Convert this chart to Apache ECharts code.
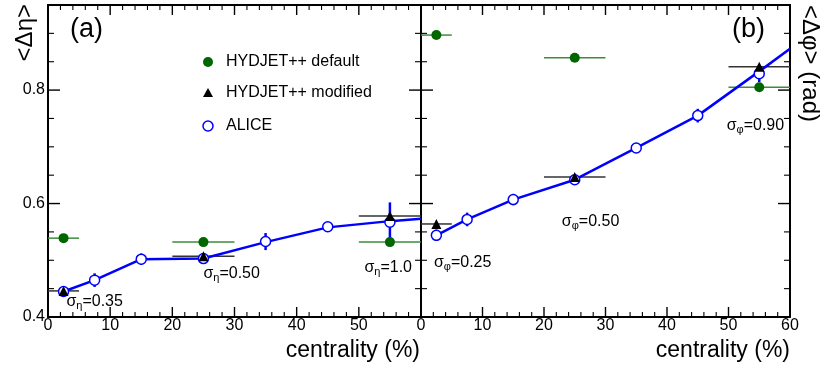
<!DOCTYPE html>
<html>
<head>
<meta charset="utf-8">
<script src="https://cdn.jsdelivr.net/npm/echarts@6/dist/echarts.min.js"></script>
<style>
  html, body { margin: 0; padding: 0; background: #fff; }
  #chart { width: 822px; height: 372px; }
</style>
</head>
<body>
<div id="chart"></div>
<script>
// ALICE points (bin centres)
const centrality = [2.5, 7.5, 15, 25, 35, 45, 55];
const aliceEta = [0.445, 0.465, 0.502, 0.503, 0.533, 0.559, 0.567];
const aliceEtaErr = [0.008, 0.012, 0.010, 0.006, 0.015, 0.005, 0.035];
const alicePhi = [0.544, 0.572, 0.607, 0.642, 0.698, 0.755, 0.829];
const alicePhiErr = [0.010, 0.012, 0.010, 0.005, 0.005, 0.012, 0.015];

// blue curve through the ALICE points
const curveX = [2.5, 7.5, 15, 25, 35, 45, 55, 60];
const curveEta = [0.445, 0.465, 0.502, 0.503, 0.532, 0.558, 0.569, 0.573];
const curvePhi = [0.544, 0.572, 0.607, 0.642, 0.698, 0.755, 0.833, 0.873];

// HYDJET++ (three centrality bins)
const hydX = [2.5, 25, 55];
const hydLo = [0, 20, 50];
const hydHi = [5, 30, 60];
const defEta = [0.539, 0.532, 0.532];
const defPhi = [0.897, 0.857, 0.805];
const modEta = [0.446, 0.507, 0.578];
const modPhi = [0.564, 0.647, 0.841];

// tick positions
const xTicks = [0, 10, 20, 30, 40, 50, 60];
const xMinorTicks = [2, 4, 6, 8, 12, 14, 16, 18, 22, 24, 26, 28, 32, 34, 36, 38, 42, 44, 46, 48, 52, 54, 56, 58];
const yTicks = [0.4, 0.6, 0.8];
const yMinorTicks = [0.45, 0.5, 0.55, 0.65, 0.7, 0.75, 0.85, 0.9];

const FONT = 'Liberation Sans, Arial, Helvetica, sans-serif';
const BLUE = '#0000ff';
const GREEN = '#006600';

const chart = echarts.init(document.getElementById('chart'));

// frame axes: line only
function xFrameAxis(g, pos) {
  return {
    gridIndex: g, type: 'value', min: 0, max: 60, interval: 10, position: pos,
    splitLine: { show: false },
    axisLine: { show: true, onZero: false, lineStyle: { color: '#000', width: 2 } },
    axisTick: { show: false },
    axisLabel: { show: false },
  };
}
function yFrameAxis(g, pos) {
  return {
    gridIndex: g, type: 'value', min: 0.4, max: 0.95, interval: 0.2, position: pos,
    splitLine: { show: false },
    axisLine: { show: true, onZero: false, lineStyle: { color: '#000', width: 2 } },
    axisTick: { show: false },
    axisLabel: { show: false },
  };
}
// label-only axes
function xLabelAxis(g, hideLast) {
  return {
    gridIndex: g, type: 'value', min: 0, max: 60, interval: 10, position: 'bottom',
    splitLine: { show: false },
    axisLine: { show: false, onZero: false },
    axisTick: { show: false },
    axisLabel: {
      show: true, margin: 1, fontSize: 16, fontFamily: FONT, color: '#000',
      formatter: (v) => (hideLast && v === 60 ? '' : String(v)),
    },
  };
}
function yLabelAxis(g) {
  return {
    gridIndex: g, type: 'value', min: 0.4, max: 0.95, interval: 0.2, position: 'left',
    splitLine: { show: false },
    axisLine: { show: false, onZero: false },
    axisTick: { show: false },
    axisLabel: {
      show: true, margin: 3, fontSize: 16, fontFamily: FONT, color: '#000',
      formatter: (v) => (yTicks.some((t) => Math.abs(t - v) < 1e-6) ? v.toFixed(1) : ''),
    },
  };
}

// inward tick marks as thin rect symbols sitting on the frame
function tickSet(xi, yi, data, size, offset) {
  return {
    type: 'scatter', xAxisIndex: xi, yAxisIndex: yi, silent: true, clip: false, z: 1,
    symbol: 'rect', symbolSize: size, symbolOffset: offset,
    itemStyle: { color: '#000', opacity: 1 },
    data,
  };
}
function ticks(xi, yi) {
  return [
    tickSet(xi, yi, xTicks.map((v) => [v, 0.4]), [1.4, 10], [0, -5]),
    tickSet(xi, yi, xMinorTicks.map((v) => [v, 0.4]), [1.1, 5], [0, -2.5]),
    tickSet(xi, yi, xTicks.map((v) => [v, 0.95]), [1.4, 10], [0, 5]),
    tickSet(xi, yi, xMinorTicks.map((v) => [v, 0.95]), [1.1, 5], [0, 2.5]),
    tickSet(xi, yi, yTicks.map((v) => [0, v]), [12, 1.4], [6, 0]),
    tickSet(xi, yi, yMinorTicks.map((v) => [0, v]), [6, 1.1], [3, 0]),
    tickSet(xi, yi, yTicks.map((v) => [60, v]), [12, 1.4], [-6, 0]),
    tickSet(xi, yi, yMinorTicks.map((v) => [60, v]), [6, 1.1], [-3, 0]),
  ];
}

function binBars(xi, yi, ys, color, width) {
  return {
    type: 'custom', xAxisIndex: xi, yAxisIndex: yi, silent: true, z: 2,
    data: ys.map((y, i) => [hydLo[i], hydHi[i], y]),
    renderItem: (params, api) => {
      const a = api.coord([api.value(0), api.value(2)]);
      const b = api.coord([api.value(1), api.value(2)]);
      return {
        type: 'line',
        shape: { x1: a[0], y1: a[1], x2: b[0], y2: b[1] },
        style: { stroke: color, lineWidth: width },
      };
    },
  };
}

function errBars(xi, yi, ys, errs) {
  return {
    type: 'custom', xAxisIndex: xi, yAxisIndex: yi, silent: true, z: 3,
    data: ys.map((y, i) => [centrality[i], y, errs[i]]),
    renderItem: (params, api) => {
      const x = api.value(0), y = api.value(1), e = api.value(2);
      const a = api.coord([x, y - e]);
      const b = api.coord([x, y + e]);
      return {
        type: 'line',
        shape: { x1: a[0], y1: a[1], x2: b[0], y2: b[1] },
        style: { stroke: BLUE, lineWidth: 2.5 },
      };
    },
  };
}

function curve(xi, yi, ys) {
  return {
    type: 'line', xAxisIndex: xi, yAxisIndex: yi, silent: true, z: 4,
    data: curveX.map((x, i) => [x, ys[i]]),
    smooth: false, symbol: 'none',
    lineStyle: { color: BLUE, width: 2.5 },
  };
}

function markers(xi, yi, xs, ys, symbol, itemStyle, z) {
  return {
    type: 'scatter', xAxisIndex: xi, yAxisIndex: yi, silent: true, z,
    data: xs.map((x, i) => [x, ys[i]]),
    symbol, symbolSize: 10, itemStyle: { opacity: 1, ...itemStyle },
  };
}

function notes(xi, yi, sub, items) {
  return {
    type: 'custom', xAxisIndex: xi, yAxisIndex: yi, silent: true, z: 6, clip: true,
    data: items.map((n) => [n[0], n[1]]),
    renderItem: (params, api) => {
      const p = api.coord([api.value(0), api.value(1)]);
      return {
        type: 'text',
        x: p[0], y: p[1],
        style: {
          text: '{m|σ}{s|' + sub + '}{m|=' + items[params.dataIndex][2] + '}',
          align: 'left', verticalAlign: 'middle',
          rich: {
            m: { fontSize: 16, fontFamily: FONT, color: '#000', lineHeight: 20 },
            s: { fontSize: 11, fontFamily: FONT, color: '#000', lineHeight: 10, verticalAlign: 'bottom' },
          },
        },
      };
    },
  };
}

function panel(xi, yi, eta, etaErr, curveY, def, mod) {
  return [
    ...ticks(xi, yi),
    binBars(xi, yi, def, '#3d8c3d', 1.5),
    binBars(xi, yi, mod, '#333333', 1.5),
    errBars(xi, yi, eta, etaErr),
    curve(xi, yi, curveY),
    markers(xi, yi, centrality, eta, 'circle', { color: '#fff', borderColor: BLUE, borderWidth: 1.5 }, 5),
    markers(xi, yi, hydX, mod, 'triangle', { color: '#000' }, 6),
    markers(xi, yi, hydX, def, 'circle', { color: GREEN }, 6),
  ];
}

const titleText = (text, x, y, size, align, rotation) => ({
  type: 'text', x, y, rotation: rotation || 0,
  style: {
    text, fill: '#000', fontSize: size, fontFamily: FONT,
    align, textAlign: align, verticalAlign: 'middle', textVerticalAlign: 'middle',
  },
});

const option = {
  animation: false,
  grid: [
    { left: 48, top: 5, width: 373, height: 312 },
    { left: 421, top: 5, width: 369, height: 312 },
  ],
  // x: 0-2 left panel, 3-5 right panel
  xAxis: [
    xFrameAxis(0, 'bottom'), xFrameAxis(0, 'top'), xLabelAxis(0, true),
    xFrameAxis(1, 'bottom'), xFrameAxis(1, 'top'), xLabelAxis(1, false),
  ],
  // y: 0-2 left panel, 3-4 right panel
  yAxis: [
    yFrameAxis(0, 'left'), yFrameAxis(0, 'right'), yLabelAxis(0),
    yFrameAxis(1, 'left'), yFrameAxis(1, 'right'),
  ],
  series: [
    ...panel(0, 0, aliceEta, aliceEtaErr, curveEta, defEta, modEta),
    ...panel(3, 3, alicePhi, alicePhiErr, curvePhi, defPhi, modPhi),
    notes(0, 0, 'η', [[2.96, 0.4274, '0.35'], [25.0, 0.4763, '0.50'], [50.9, 0.4879, '1.0']]),
    notes(3, 3, 'φ', [[2.1, 0.4957, '0.25'], [22.9, 0.569, '0.50'], [49.7, 0.7368, '0.90']]),
  ],
  graphic: [
    titleText('(a)', 70, 30, 27, 'left'),
    titleText('(b)', 732, 30, 27, 'left'),
    titleText('<Δη>', 25, 4, 24, 'right', Math.PI / 2),
    titleText('<Δφ> (rad)', 810, 5, 24, 'left', -Math.PI / 2),
    titleText('centrality (%)', 420, 351, 23, 'right'),
    titleText('centrality (%)', 790, 351, 23, 'right'),
    { type: 'circle', shape: { cx: 208, cy: 62, r: 5 }, style: { fill: GREEN } },
    { type: 'polygon', shape: { points: [[208, 88], [213, 97], [203, 97]] }, style: { fill: '#000' } },
    { type: 'circle', shape: { cx: 208, cy: 126, r: 5 }, style: { fill: '#fff', stroke: BLUE, lineWidth: 1.5 } },
    titleText('HYDJET++ default', 226, 62, 16, 'left'),
    titleText('HYDJET++ modified', 226, 93, 16, 'left'),
    titleText('ALICE', 226, 126, 16, 'left'),
  ],
};

chart.setOption(option);
</script>
</body>
</html>
